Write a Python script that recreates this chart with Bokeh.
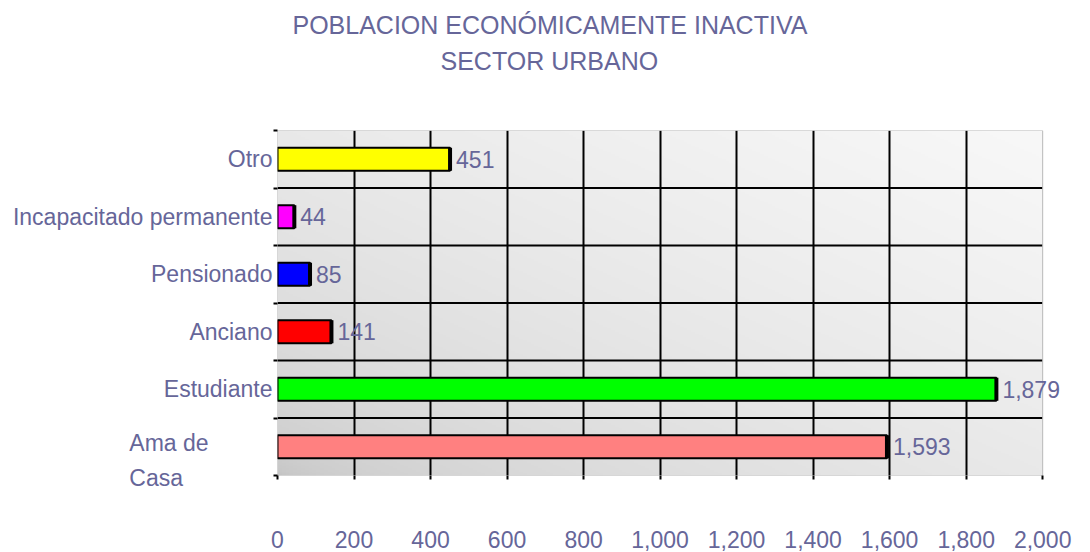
import numpy as np
from bokeh.plotting import figure
from bokeh.models import (Range1d, FixedTicker, LabelSet, ColumnDataSource,
                          LinearAxis, Title)
from bokeh.core.properties import value
from bokeh.embed import file_html
from bokeh.resources import INLINE

# ---- data ----
categories = ["Ama de\nCasa", "Estudiante", "Anciano", "Pensionado",
              "Incapacitado permanente", "Otro"]
values = [1593, 1879, 141, 85, 44, 451]
value_labels = ["1,593", "1,879", "141", "85", "44", "451"]
colors = ["#ff8080", "#00ff00", "#ff0000", "#0000ff", "#ff00ff", "#ffff00"]
x_ticks = [0, 200, 400, 600, 800, 1000, 1200, 1400, 1600, 1800, 2000]
x_tick_labels = ["0", "200", "400", "600", "800", "1,000", "1,200",
                 "1,400", "1,600", "1,800", "2,000"]
title_lines = ["POBLACION ECONÓMICAMENTE INACTIVA", "SECTOR URBANO"]

FONT = "Liberation Sans"
TXT = "#666699"
FS = "23px"
ncat = len(categories)
xmax = x_ticks[-1]

ys = [i + 0.5 for i in range(ncat)]
half = 0.2
# multi-line labels: first line sits on the bar, following lines below it
label_pos = [y - 0.24 * c.count("\n") for c, y in zip(categories, ys)]
NB = "\u00a0"


def shown(c):
    # the two-line label is set flush-left in the reference
    if "\n" in c:
        a, b = c.split("\n")
        return a + NB * 10 + "\n" + b + NB * 14
    return c


p = figure(width=1090, height=552, x_range=Range1d(0, 2125),
           y_range=Range1d(0, ncat), title=None,
           output_backend="svg", toolbar_location=None,
           min_border_left=277, min_border_right=0,
           min_border_top=130, min_border_bottom=77)
p.background_fill_color = "white"
p.border_fill_color = "white"
p.outline_line_color = None

# gradient background for the plot area
n = 200
u = np.linspace(0, 1, n)[None, :]
w = np.linspace(0, 1, n)[:, None]
g = (196 + (248 - 196) * np.sqrt((u + w) / 2)).astype(np.uint8)
rgba = np.zeros((n, n, 4), dtype=np.uint8)
rgba[..., 0] = g
rgba[..., 1] = g
rgba[..., 2] = g
rgba[..., 3] = 255
img = rgba.view(dtype=np.uint32).reshape((n, n))
p.image_rgba(image=[img], x=0, y=0, dw=xmax, dh=ncat, level="image")

# grid
p.xgrid.ticker = FixedTicker(ticks=x_ticks[1:-1])
p.xgrid.grid_line_color = "black"
p.xgrid.grid_line_width = 2
p.ygrid.grid_line_color = None
bounds = list(range(1, ncat))
p.segment(x0=[0] * len(bounds), x1=[xmax] * len(bounds), y0=bounds, y1=bounds,
          line_color="black", line_width=2)
# plot-area border
p.quad(left=[0], right=[xmax], bottom=[0], top=[ncat], fill_color=None,
       line_color="#b8b8b8", line_width=1)

# x axis
p.xaxis.ticker = FixedTicker(ticks=x_ticks)
p.xaxis.major_label_overrides = {v: t for v, t in zip(x_ticks, x_tick_labels)}
p.xaxis.major_label_text_font_size = FS
p.xaxis.major_label_text_font = FONT
p.xaxis.major_label_text_color = TXT
p.xaxis.major_label_text_line_height = 0.9
p.xaxis.major_label_standoff = 51
p.xaxis.axis_line_color = None
p.xaxis.major_tick_line_color = "black"
p.xaxis.major_tick_line_width = 2
p.xaxis.major_tick_in = 0
p.xaxis.major_tick_out = 4
p.xaxis.minor_tick_line_color = None

# y axis: ticks at category boundaries
p.yaxis.ticker = FixedTicker(ticks=list(range(0, ncat + 1)))
p.yaxis.major_label_overrides = {i: "" for i in range(0, ncat + 1)}
p.yaxis.major_label_standoff = 0
p.yaxis.axis_line_color = None
p.yaxis.major_tick_line_color = "black"
p.yaxis.major_tick_line_width = 2
p.yaxis.major_tick_in = 0
p.yaxis.major_tick_out = 4
p.yaxis.minor_tick_line_color = None

# y axis: category names
cat_axis = LinearAxis(ticker=FixedTicker(ticks=label_pos),
                      major_label_overrides={pos: shown(c) for pos, c in zip(label_pos, categories)},
                      axis_line_color=None, major_tick_line_color=None,
                      minor_tick_line_color=None, major_tick_in=0,
                      major_tick_out=0, major_label_standoff=1,
                      major_label_text_font_size=FS,
                      major_label_text_font=FONT,
                      major_label_text_color=TXT,
                      major_label_text_line_height=1.36)
p.add_layout(cat_axis, "left")

# bars
src = ColumnDataSource(dict(
    y=ys, right=values, color=colors, label=value_labels,
    y0=[y - half for y in ys], y1=[y + half for y in ys]))
p.hbar(y="y", left=0, right="right", height=2 * half, fill_color="color",
       line_color="black", line_width=2, source=src)
p.segment(x0="right", x1="right", y0="y0", y1="y1", line_color="black",
          line_width=4, source=src)

p.add_layout(LabelSet(x="right", y="y", text="label", source=src, x_offset=6,
                      text_baseline="middle", text_align="left",
                      text_color=TXT, text_font_size=FS,
                      text_font=value(FONT)))

# empty spacer between plot area and title block (invisible tick, no label)
spacer = LinearAxis(ticker=FixedTicker(ticks=[x_ticks[0]]),
                    major_label_overrides={x_ticks[0]: ""},
                    major_tick_out=56, major_tick_in=0,
                    major_label_standoff=0,
                    axis_line_color=None, major_tick_line_color=None,
                    minor_tick_line_color=None)
p.add_layout(spacer, "above")

# title (two lines)
TFS = "25px"
t_inner = Title(text=title_lines[1], align="left", offset=163, standoff=0,
                text_font_size=TFS, text_font=FONT, text_color=TXT,
                text_font_style="normal")
t_outer = Title(text=title_lines[0], align="left", offset=15, standoff=12,
                text_font_size=TFS, text_font=FONT, text_color=TXT,
                text_font_style="normal")
p.add_layout(t_inner, "above")
p.add_layout(t_outer, "above")

open("out.html", "w").write(file_html(p, INLINE))
